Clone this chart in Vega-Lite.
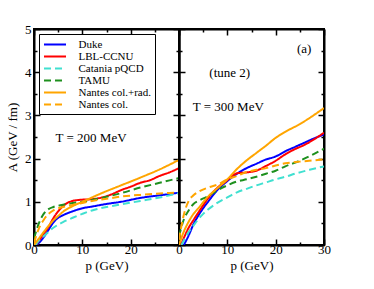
{
  "$schema": "https://vega.github.io/schema/vega-lite/v6.json",
  "padding": {"left": 5, "top": 22, "right": 5, "bottom": 5},
  "background": "white",
  "bounds": "flush",
  "config": {
    "font": "Liberation Serif",
    "view": {"stroke": "black", "strokeWidth": 2},
    "axis": {
      "grid": false, "domainColor": "black", "domainWidth": 2,
      "tickColor": "black", "tickWidth": 1.5,
      "labelFont": "Liberation Serif", "labelFontSize": 13, "labelColor": "black",
      "titleFont": "Liberation Serif", "titleFontSize": 13, "titleFontWeight": "normal", "titleColor": "black",
      "labelFlush": false, "labelOverlap": false
    }
  },
  "datasets": {
    "curves": [
      {"T":200,"model":"Duke","p":0.6,"A":0},{"T":200,"model":"Duke","p":2,"A":0.18},{"T":200,"model":"Duke","p":3,"A":0.35},{"T":200,"model":"Duke","p":4,"A":0.52},{"T":200,"model":"Duke","p":5,"A":0.63},{"T":200,"model":"Duke","p":6,"A":0.69},{"T":200,"model":"Duke","p":8,"A":0.78},{"T":200,"model":"Duke","p":10,"A":0.85},{"T":200,"model":"Duke","p":12,"A":0.89},{"T":200,"model":"Duke","p":15,"A":0.95},{"T":200,"model":"Duke","p":18,"A":1.0},{"T":200,"model":"Duke","p":22,"A":1.09},{"T":200,"model":"Duke","p":26,"A":1.15},{"T":200,"model":"Duke","p":30,"A":1.21},
      {"T":200,"model":"LBL-CCNU","p":0.4,"A":0},{"T":200,"model":"LBL-CCNU","p":2,"A":0.26},{"T":200,"model":"LBL-CCNU","p":3,"A":0.42},{"T":200,"model":"LBL-CCNU","p":4,"A":0.62},{"T":200,"model":"LBL-CCNU","p":5,"A":0.78},{"T":200,"model":"LBL-CCNU","p":6,"A":0.9},{"T":200,"model":"LBL-CCNU","p":7,"A":0.98},{"T":200,"model":"LBL-CCNU","p":8,"A":1.02},{"T":200,"model":"LBL-CCNU","p":10,"A":1.05},{"T":200,"model":"LBL-CCNU","p":12,"A":1.06},{"T":200,"model":"LBL-CCNU","p":14,"A":1.1},{"T":200,"model":"LBL-CCNU","p":16,"A":1.17},{"T":200,"model":"LBL-CCNU","p":18,"A":1.27},{"T":200,"model":"LBL-CCNU","p":20,"A":1.35},{"T":200,"model":"LBL-CCNU","p":22,"A":1.44},{"T":200,"model":"LBL-CCNU","p":24,"A":1.5},{"T":200,"model":"LBL-CCNU","p":26,"A":1.6},{"T":200,"model":"LBL-CCNU","p":28,"A":1.68},{"T":200,"model":"LBL-CCNU","p":30,"A":1.78},
      {"T":200,"model":"Catania pQCD","p":0.3,"A":0},{"T":200,"model":"Catania pQCD","p":1,"A":0.1},{"T":200,"model":"Catania pQCD","p":2,"A":0.2},{"T":200,"model":"Catania pQCD","p":3,"A":0.3},{"T":200,"model":"Catania pQCD","p":4,"A":0.4},{"T":200,"model":"Catania pQCD","p":5,"A":0.47},{"T":200,"model":"Catania pQCD","p":6,"A":0.53},{"T":200,"model":"Catania pQCD","p":8,"A":0.63},{"T":200,"model":"Catania pQCD","p":10,"A":0.72},{"T":200,"model":"Catania pQCD","p":12,"A":0.8},{"T":200,"model":"Catania pQCD","p":15,"A":0.88},{"T":200,"model":"Catania pQCD","p":18,"A":0.94},{"T":200,"model":"Catania pQCD","p":22,"A":1.02},{"T":200,"model":"Catania pQCD","p":26,"A":1.1},{"T":200,"model":"Catania pQCD","p":30,"A":1.2},
      {"T":200,"model":"TAMU","p":0,"A":0.15},{"T":200,"model":"TAMU","p":1,"A":0.5},{"T":200,"model":"TAMU","p":2,"A":0.72},{"T":200,"model":"TAMU","p":3,"A":0.83},{"T":200,"model":"TAMU","p":4,"A":0.88},{"T":200,"model":"TAMU","p":6,"A":0.93},{"T":200,"model":"TAMU","p":8,"A":0.97},{"T":200,"model":"TAMU","p":10,"A":1.0},{"T":200,"model":"TAMU","p":14,"A":1.09},{"T":200,"model":"TAMU","p":18,"A":1.2},{"T":200,"model":"TAMU","p":22,"A":1.33},{"T":200,"model":"TAMU","p":26,"A":1.44},{"T":200,"model":"TAMU","p":30,"A":1.55},
      {"T":200,"model":"Nantes col.+rad.","p":0,"A":0},{"T":200,"model":"Nantes col.+rad.","p":1,"A":0.15},{"T":200,"model":"Nantes col.+rad.","p":2,"A":0.3},{"T":200,"model":"Nantes col.+rad.","p":3,"A":0.44},{"T":200,"model":"Nantes col.+rad.","p":4,"A":0.57},{"T":200,"model":"Nantes col.+rad.","p":5,"A":0.67},{"T":200,"model":"Nantes col.+rad.","p":6,"A":0.77},{"T":200,"model":"Nantes col.+rad.","p":8,"A":0.9},{"T":200,"model":"Nantes col.+rad.","p":10,"A":1.0},{"T":200,"model":"Nantes col.+rad.","p":12,"A":1.1},{"T":200,"model":"Nantes col.+rad.","p":14,"A":1.2},{"T":200,"model":"Nantes col.+rad.","p":18,"A":1.38},{"T":200,"model":"Nantes col.+rad.","p":22,"A":1.56},{"T":200,"model":"Nantes col.+rad.","p":26,"A":1.75},{"T":200,"model":"Nantes col.+rad.","p":30,"A":1.97},
      {"T":200,"model":"Nantes col.","p":0,"A":0.05},{"T":200,"model":"Nantes col.","p":1,"A":0.38},{"T":200,"model":"Nantes col.","p":2,"A":0.58},{"T":200,"model":"Nantes col.","p":3,"A":0.72},{"T":200,"model":"Nantes col.","p":4,"A":0.8},{"T":200,"model":"Nantes col.","p":6,"A":0.88},{"T":200,"model":"Nantes col.","p":9,"A":0.95},{"T":200,"model":"Nantes col.","p":12,"A":1.02},{"T":200,"model":"Nantes col.","p":15,"A":1.07},{"T":200,"model":"Nantes col.","p":18,"A":1.12},{"T":200,"model":"Nantes col.","p":22,"A":1.16},{"T":200,"model":"Nantes col.","p":26,"A":1.19},{"T":200,"model":"Nantes col.","p":30,"A":1.22},
      {"T":300,"model":"Duke","p":1,"A":0},{"T":300,"model":"Duke","p":2,"A":0.22},{"T":300,"model":"Duke","p":3,"A":0.48},{"T":300,"model":"Duke","p":4,"A":0.68},{"T":300,"model":"Duke","p":5,"A":0.85},{"T":300,"model":"Duke","p":6,"A":1.0},{"T":300,"model":"Duke","p":8,"A":1.28},{"T":300,"model":"Duke","p":10,"A":1.48},{"T":300,"model":"Duke","p":12,"A":1.65},{"T":300,"model":"Duke","p":14,"A":1.78},{"T":300,"model":"Duke","p":16,"A":1.88},{"T":300,"model":"Duke","p":18,"A":1.98},{"T":300,"model":"Duke","p":20,"A":2.05},{"T":300,"model":"Duke","p":22,"A":2.17},{"T":300,"model":"Duke","p":24,"A":2.27},{"T":300,"model":"Duke","p":26,"A":2.37},{"T":300,"model":"Duke","p":28,"A":2.47},{"T":300,"model":"Duke","p":30,"A":2.56},
      {"T":300,"model":"LBL-CCNU","p":0.4,"A":0},{"T":300,"model":"LBL-CCNU","p":2,"A":0.4},{"T":300,"model":"LBL-CCNU","p":3,"A":0.58},{"T":300,"model":"LBL-CCNU","p":4,"A":0.75},{"T":300,"model":"LBL-CCNU","p":5,"A":0.92},{"T":300,"model":"LBL-CCNU","p":6,"A":1.08},{"T":300,"model":"LBL-CCNU","p":8,"A":1.33},{"T":300,"model":"LBL-CCNU","p":10,"A":1.5},{"T":300,"model":"LBL-CCNU","p":11,"A":1.6},{"T":300,"model":"LBL-CCNU","p":12,"A":1.66},{"T":300,"model":"LBL-CCNU","p":14,"A":1.68},{"T":300,"model":"LBL-CCNU","p":16,"A":1.72},{"T":300,"model":"LBL-CCNU","p":18,"A":1.83},{"T":300,"model":"LBL-CCNU","p":20,"A":1.95},{"T":300,"model":"LBL-CCNU","p":22,"A":2.1},{"T":300,"model":"LBL-CCNU","p":24,"A":2.22},{"T":300,"model":"LBL-CCNU","p":26,"A":2.32},{"T":300,"model":"LBL-CCNU","p":28,"A":2.45},{"T":300,"model":"LBL-CCNU","p":30,"A":2.6},
      {"T":300,"model":"Catania pQCD","p":0.5,"A":0},{"T":300,"model":"Catania pQCD","p":2,"A":0.3},{"T":300,"model":"Catania pQCD","p":3,"A":0.45},{"T":300,"model":"Catania pQCD","p":4,"A":0.6},{"T":300,"model":"Catania pQCD","p":5,"A":0.72},{"T":300,"model":"Catania pQCD","p":6,"A":0.82},{"T":300,"model":"Catania pQCD","p":8,"A":0.98},{"T":300,"model":"Catania pQCD","p":10,"A":1.1},{"T":300,"model":"Catania pQCD","p":12,"A":1.22},{"T":300,"model":"Catania pQCD","p":14,"A":1.3},{"T":300,"model":"Catania pQCD","p":16,"A":1.38},{"T":300,"model":"Catania pQCD","p":18,"A":1.45},{"T":300,"model":"Catania pQCD","p":20,"A":1.52},{"T":300,"model":"Catania pQCD","p":22,"A":1.58},{"T":300,"model":"Catania pQCD","p":24,"A":1.65},{"T":300,"model":"Catania pQCD","p":27,"A":1.74},{"T":300,"model":"Catania pQCD","p":30,"A":1.82},
      {"T":300,"model":"TAMU","p":0,"A":0.2},{"T":300,"model":"TAMU","p":1,"A":0.59},{"T":300,"model":"TAMU","p":2,"A":0.8},{"T":300,"model":"TAMU","p":3,"A":0.95},{"T":300,"model":"TAMU","p":4,"A":1.02},{"T":300,"model":"TAMU","p":6,"A":1.13},{"T":300,"model":"TAMU","p":8,"A":1.27},{"T":300,"model":"TAMU","p":10,"A":1.38},{"T":300,"model":"TAMU","p":12,"A":1.47},{"T":300,"model":"TAMU","p":14,"A":1.52},{"T":300,"model":"TAMU","p":16,"A":1.58},{"T":300,"model":"TAMU","p":18,"A":1.65},{"T":300,"model":"TAMU","p":20,"A":1.72},{"T":300,"model":"TAMU","p":22,"A":1.82},{"T":300,"model":"TAMU","p":25,"A":1.95},{"T":300,"model":"TAMU","p":30,"A":2.23},
      {"T":300,"model":"Nantes col.+rad.","p":0,"A":0},{"T":300,"model":"Nantes col.+rad.","p":1,"A":0.31},{"T":300,"model":"Nantes col.+rad.","p":2,"A":0.54},{"T":300,"model":"Nantes col.+rad.","p":3,"A":0.72},{"T":300,"model":"Nantes col.+rad.","p":4,"A":0.85},{"T":300,"model":"Nantes col.+rad.","p":6,"A":1.12},{"T":300,"model":"Nantes col.+rad.","p":8,"A":1.32},{"T":300,"model":"Nantes col.+rad.","p":10,"A":1.52},{"T":300,"model":"Nantes col.+rad.","p":12,"A":1.76},{"T":300,"model":"Nantes col.+rad.","p":14,"A":1.96},{"T":300,"model":"Nantes col.+rad.","p":16,"A":2.13},{"T":300,"model":"Nantes col.+rad.","p":18,"A":2.3},{"T":300,"model":"Nantes col.+rad.","p":20,"A":2.48},{"T":300,"model":"Nantes col.+rad.","p":22,"A":2.62},{"T":300,"model":"Nantes col.+rad.","p":25,"A":2.8},{"T":300,"model":"Nantes col.+rad.","p":30,"A":3.17},
      {"T":300,"model":"Nantes col.","p":0,"A":0.12},{"T":300,"model":"Nantes col.","p":1,"A":0.7},{"T":300,"model":"Nantes col.","p":2,"A":1.02},{"T":300,"model":"Nantes col.","p":3,"A":1.15},{"T":300,"model":"Nantes col.","p":4,"A":1.23},{"T":300,"model":"Nantes col.","p":6,"A":1.33},{"T":300,"model":"Nantes col.","p":8,"A":1.4},{"T":300,"model":"Nantes col.","p":10,"A":1.52},{"T":300,"model":"Nantes col.","p":12,"A":1.6},{"T":300,"model":"Nantes col.","p":14,"A":1.69},{"T":300,"model":"Nantes col.","p":16,"A":1.74},{"T":300,"model":"Nantes col.","p":18,"A":1.78},{"T":300,"model":"Nantes col.","p":20,"A":1.84},{"T":300,"model":"Nantes col.","p":22,"A":1.89},{"T":300,"model":"Nantes col.","p":25,"A":1.93},{"T":300,"model":"Nantes col.","p":30,"A":1.98}
    ],
    "notes": [
      {"T":200,"p":11.8,"A":2.48,"label":"T = 200 MeV"},
      {"T":300,"p":10.5,"A":3.98,"label":"(tune 2)"},
      {"T":300,"p":10.2,"A":3.2,"label":"T = 300 MeV"},
      {"T":300,"p":25.9,"A":4.54,"label":"(a)"}
    ]
  },
  "spacing": 0,
  "resolve": {"legend": {"color": "independent", "strokeDash": "independent"}},
  "hconcat": [
    {
      "width": 145, "height": 216,
      "layer": [
        {
          "data": {"name": "curves"},
          "transform": [{"filter": "datum.T === 200"}],
          "mark": {"type": "line", "strokeWidth": 2, "interpolate": "monotone", "clip": true},
          "encoding": {
            "x": {"field": "p", "type": "quantitative", "scale": {"domain": [0, 30], "nice": false},
                  "axis": {"orient": "bottom", "title": "p (GeV)", "titlePadding": 0, "values": [0,5,10,15,20,25,30],
                           "labelExpr": "datum.value % 10 === 0 && datum.value < 30 ? format(datum.value, 'd') : ''",
                           "tickSize": {"condition": {"test": "datum.value % 10 === 0", "value": -6}, "value": -3},
                           "labelPadding": 4}},
            "y": {"field": "A", "type": "quantitative", "scale": {"domain": [0, 5], "nice": false},
                  "axis": {"orient": "left", "title": "A (GeV / fm)", "titlePadding": 5, "values": [0,0.5,1,1.5,2,2.5,3,3.5,4,4.5,5],
                           "labelExpr": "datum.value % 1 === 0 ? format(datum.value, 'd') : ''",
                           "tickSize": {"condition": {"test": "datum.value % 1 === 0", "value": -6}, "value": -3},
                           "labelPadding": 9}},
            "color": {"field": "model", "type": "nominal",
                      "scale": {"domain": ["Duke","LBL-CCNU","Catania pQCD","TAMU","Nantes col.+rad.","Nantes col."],
                                "range": ["#0000ff","#ff0000","#40e0d0","#1e901e","#ffa500","#ffa500"]},
                      "legend": {"title": null, "orient": "top-left", "offset": 5, "symbolType": "M-2,0L2,0", "symbolStrokeWidth": 2,
                                 "symbolSize": 121, "symbolOffset": 5.5, "labelFontSize": 11, "labelFont": "Liberation Serif", "labelColor": "black",
                                 "strokeColor": "black", "fillColor": "white", "padding": 4, "rowPadding": 0, "labelOffset": 17}},
            "strokeDash": {"field": "model", "type": "nominal",
                           "scale": {"domain": ["Duke","LBL-CCNU","Catania pQCD","TAMU","Nantes col.+rad.","Nantes col."],
                                     "range": [[1,0],[1,0],[7,4],[7,4],[1,0],[7,4]]},
                           "legend": {"title": null, "orient": "top-left", "offset": 5, "symbolType": "M-2,0L2,0", "symbolStrokeWidth": 2,
                                      "symbolSize": 121, "symbolOffset": 5.5, "labelFontSize": 11, "labelFont": "Liberation Serif", "labelColor": "black",
                                      "strokeColor": "black", "fillColor": "white", "padding": 4, "rowPadding": 0, "labelOffset": 17}}
          }
        },
        {
          "data": {"name": "curves"},
          "transform": [{"filter": "datum.T === 200"}],
          "mark": {"type": "line", "opacity": 0},
          "encoding": {
            "x": {"field": "p", "type": "quantitative",
                  "axis": {"orient": "top", "title": null, "labels": false, "values": [0,5,10,15,20,25,30], "minExtent": 0, "maxExtent": 0,
                           "tickSize": {"condition": {"test": "datum.value % 10 === 0", "value": -6}, "value": -3}}},
            "y": {"field": "A", "type": "quantitative",
                  "axis": {"orient": "right", "title": null, "labels": false, "values": [0,0.5,1,1.5,2,2.5,3,3.5,4,4.5,5], "minExtent": 0, "maxExtent": 0,
                           "tickSize": {"condition": {"test": "datum.value % 1 === 0", "value": -6}, "value": -3}}},
            "detail": {"field": "model"}
          }
        },
        {
          "data": {"name": "notes"},
          "transform": [{"filter": "datum.T === 200"}],
          "mark": {"type": "text", "fontSize": 13, "font": "Liberation Serif", "color": "black"},
          "encoding": {
            "x": {"field": "p", "type": "quantitative", "axis": null},
            "y": {"field": "A", "type": "quantitative", "axis": null},
            "text": {"field": "label"}
          }
        }
      ],
      "resolve": {"axis": {"x": "independent", "y": "independent"}}
    },
    {
      "width": 145, "height": 216,
      "layer": [
        {
          "data": {"name": "curves"},
          "transform": [{"filter": "datum.T === 300"}],
          "mark": {"type": "line", "strokeWidth": 2, "interpolate": "monotone", "clip": true},
          "encoding": {
            "x": {"field": "p", "type": "quantitative", "scale": {"domain": [0, 30], "nice": false},
                  "axis": {"orient": "bottom", "title": "p (GeV)", "titlePadding": 0, "values": [0,5,10,15,20,25,30],
                           "labelExpr": "datum.value % 10 === 0 ? format(datum.value, 'd') : ''",
                           "tickSize": {"condition": {"test": "datum.value % 10 === 0", "value": -6}, "value": -3},
                           "labelPadding": 4}},
            "y": {"field": "A", "type": "quantitative", "scale": {"domain": [0, 5], "nice": false},
                  "axis": {"orient": "left", "title": null, "labels": false, "values": [0,0.5,1,1.5,2,2.5,3,3.5,4,4.5,5], "minExtent": 0, "maxExtent": 0,
                           "tickSize": {"condition": {"test": "datum.value % 1 === 0", "value": -6}, "value": -3}}},
            "color": {"field": "model", "type": "nominal",
                      "scale": {"domain": ["Duke","LBL-CCNU","Catania pQCD","TAMU","Nantes col.+rad.","Nantes col."],
                                "range": ["#0000ff","#ff0000","#40e0d0","#1e901e","#ffa500","#ffa500"]},
                      "legend": null},
            "strokeDash": {"field": "model", "type": "nominal",
                           "scale": {"domain": ["Duke","LBL-CCNU","Catania pQCD","TAMU","Nantes col.+rad.","Nantes col."],
                                     "range": [[1,0],[1,0],[7,4],[7,4],[1,0],[7,4]]},
                           "legend": null}
          }
        },
        {
          "data": {"name": "curves"},
          "transform": [{"filter": "datum.T === 300"}],
          "mark": {"type": "line", "opacity": 0},
          "encoding": {
            "x": {"field": "p", "type": "quantitative",
                  "axis": {"orient": "top", "title": null, "labels": false, "values": [0,5,10,15,20,25,30], "minExtent": 0, "maxExtent": 0,
                           "tickSize": {"condition": {"test": "datum.value % 10 === 0", "value": -6}, "value": -3}}},
            "y": {"field": "A", "type": "quantitative",
                  "axis": {"orient": "right", "title": null, "labels": false, "values": [0,0.5,1,1.5,2,2.5,3,3.5,4,4.5,5], "minExtent": 0, "maxExtent": 0,
                           "tickSize": {"condition": {"test": "datum.value % 1 === 0", "value": -6}, "value": -3}}},
            "detail": {"field": "model"}
          }
        },
        {
          "data": {"name": "notes"},
          "transform": [{"filter": "datum.T === 300"}],
          "mark": {"type": "text", "fontSize": 13, "font": "Liberation Serif", "color": "black"},
          "encoding": {
            "x": {"field": "p", "type": "quantitative", "axis": null},
            "y": {"field": "A", "type": "quantitative", "axis": null},
            "text": {"field": "label"}
          }
        }
      ],
      "resolve": {"axis": {"x": "independent", "y": "independent"}}
    }
  ]
}
